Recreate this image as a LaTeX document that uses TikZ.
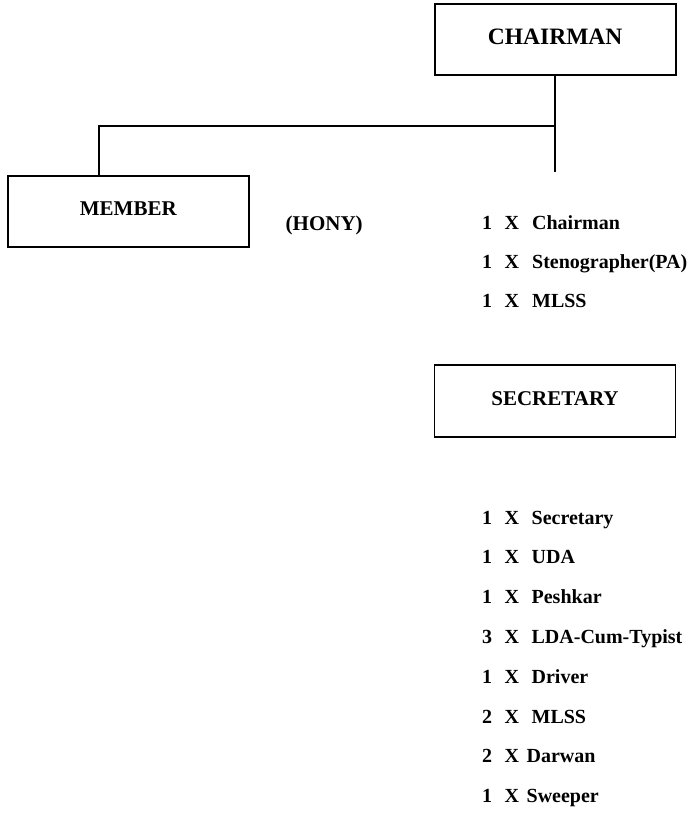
\documentclass[tikz,border=0pt]{standalone}
\usepackage{fontspec}
\setmainfont{Liberation Serif}

\tikzset{
  post/.style={draw, line width=1.8pt, minimum width=241pt, minimum height=71pt,
    inner sep=0pt, text depth=5pt, font=\fontsize{21}{25}\selectfont\bfseries},
  staff/.style={anchor=base west, inner sep=0pt, font=\fontsize{20}{24}\selectfont\bfseries},
  link/.style={line width=1.6pt},
}

\begin{document}
\begin{tikzpicture}[x=1pt,y=-1pt]
\useasboundingbox (0,0) rectangle (699,814);
% boxes
\node[post, font=\fontsize{23.5}{28}\selectfont\bfseries] (chairman) at (555.2,39.5) {CHAIRMAN};
\node[post] (member) at (128.3,211.2) {MEMBER};
\node[post, minimum height=72pt] (secretary) at (555,401.2) {SECRETARY};
\node[staff, font=\fontsize{21}{25}\selectfont\bfseries] (hony) at (285.5,230.7) {(HONY)};
% lines
\coordinate (jn) at (555.2,125.7);
\coordinate (cend) at (555.2,171.7);
\coordinate (drop) at (99,125.7);
\draw[link] (chairman.south) -- (cend);
\draw[link] (jn) -- (drop) -- (drop |- member.north);
% staff under chairman
\foreach \n/\job/\gap [count=\k from 0] in {1/Chairman/13, 1/{Stenographer(PA)}/13, 1/MLSS/13}
  \node[staff] (chair\k) at (482,{229.3+39*\k}) {\n\hspace{12.5pt}X\hspace{\gap pt}\job};
% staff under secretary
\foreach \n/\job/\gap [count=\k from 0] in {1/Secretary/12.5, 1/UDA/12.5, 1/Peshkar/12.5,
    3/LDA-Cum-Typist/12.5, 1/Driver/12.5, 2/MLSS/12.5, 2/Darwan/7.5, 1/Sweeper/7.5}
  \node[staff] (sec\k) at (482,{524+39.8*\k}) {\n\hspace{12.5pt}X\hspace{\gap pt}\job};
\end{tikzpicture}
\end{document}
